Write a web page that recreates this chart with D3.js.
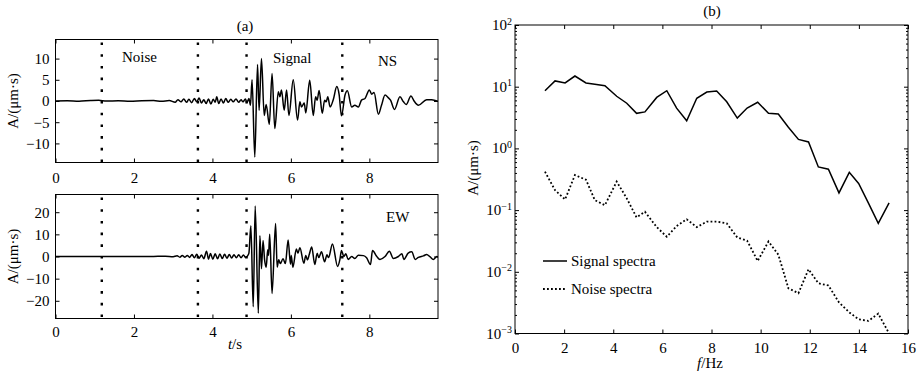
<!DOCTYPE html>
<html>
<head>
<meta charset="utf-8">
<script src="https://cdn.jsdelivr.net/npm/d3@7"></script>
<style>
  body { margin: 0; background: #fff; }
  svg, svg text { font-family: "Liberation Serif", "Times New Roman", serif; }
  .tick text { font-size: 15px; fill: #000; font-family: "Liberation Serif", "Times New Roman", serif; }
  .tick line { stroke: #000; }
</style>
</head>
<body>
<svg id="chart" width="918" height="373"></svg>
<script>
// window markers (s) on the waveforms
var windowMarks = [1.18, 3.63, 4.87, 7.31];

// NS component, turning points [t (s), A]
var nsWave = [
  [0, 0], [0.3, 0.05], [0.6, -0.05], [0.9, 0.1], [1.1, 0.15], [1.3, 0], [1.6, 0.05], [1.9, -0.08],
  [2.2, 0.05], [2.5, 0.1], [2.7, -0.05], [2.9, 0.1],
  [3.05, -0.3], [3.12, 0.3], [3.2, -0.2], [3.27, 0.5], [3.34, -0.3], [3.4, 0.4], [3.47, -0.4],
  [3.54, 0.6], [3.6, -0.2], [3.66, 0.7], [3.72, -0.5], [3.78, 0.3], [3.84, -0.6], [3.9, 0.5],
  [3.96, -0.7], [4.02, 0.4], [4.07, -0.3], [4.11, 1.0], [4.16, -0.6], [4.22, 0.5], [4.28, -0.5],
  [4.34, 0.6], [4.4, -0.3], [4.47, 0.4], [4.53, -0.2], [4.6, 0.5], [4.67, -0.3], [4.73, 0.3],
  [4.78, -0.2], [4.84, 0.5], [4.88, -0.4], [4.93, 0.6], [4.97, -1.0],
  [5.01, 5.0], [5.08, -13.2], [5.15, 8.6], [5.19, -2.2], [5.25, 10.0], [5.32, -3.4], [5.37, -0.8],
  [5.45, -5.5], [5.52, 6.5], [5.59, -6.5], [5.68, 2.2], [5.72, 1.0], [5.76, 2.6], [5.83, -2.2],
  [5.89, 2.6], [5.95, -3.4], [6.06, 5.0], [6.17, -4.5], [6.23, -0.2], [6.27, -1.4], [6.34, -0.5],
  [6.38, -2.8], [6.48, 4.9], [6.57, -3.4], [6.63, 1.0], [6.67, 0.2], [6.72, 2.5], [6.8, -2.9],
  [6.86, 0.2], [6.9, -0.2], [6.94, 1.0], [7.0, -1.4], [7.08, 0.3], [7.17, 3.4], [7.23, 1.5],
  [7.29, -3.5], [7.38, 1.4], [7.44, 2.4], [7.55, -1.4], [7.63, -1.0], [7.72, -1.4], [7.8, 0.2],
  [7.89, 0.6], [8.0, 2.6], [8.06, 1.6], [8.12, 2.0], [8.23, -3.1], [8.31, -1.0], [8.4, 1.4],
  [8.48, 0.8], [8.54, 0.2], [8.64, -2.0], [8.78, 1.0], [8.87, -0.2], [8.94, -0.8], [9.06, 1.2],
  [9.14, 0], [9.25, -1.0], [9.46, 0.3], [9.59, 0.3], [9.75, -0.1]
];

// EW component, turning points [t (s), A]
var ewWave = [
  [0, 0], [0.5, 0.05], [1, 0], [1.5, 0.05], [2, 0], [2.5, 0.05], [2.8, 0.1], [3.0, -0.1],
  [3.1, 0.3], [3.17, -0.3], [3.23, 0.4], [3.3, -0.3], [3.36, 0.5], [3.42, -0.4],
  [3.48, 0.9], [3.54, -0.6], [3.6, 1.0], [3.66, -0.8], [3.72, 0.7], [3.78, -1.0], [3.85, 2.4],
  [3.9, -1.2], [3.95, 1.3], [4.01, -1.2], [4.07, 1.2], [4.13, -1.0], [4.19, 1.1], [4.25, -0.9],
  [4.31, 1.0], [4.37, -0.8], [4.43, 0.9], [4.49, -0.7], [4.55, 0.8], [4.61, -0.6], [4.67, 0.8],
  [4.73, -0.6], [4.79, 0.7], [4.85, -0.5], [4.9, 0.4], [4.93, 1.5],
  [4.98, 13.9], [5.04, -22.7], [5.09, 22.8], [5.17, -25.6], [5.21, 9.4], [5.25, -5.5], [5.29, 7.2],
  [5.33, -1.5], [5.37, -4.8], [5.41, 3.0], [5.43, 0.5], [5.46, 10.1], [5.52, -16.7], [5.61, 14.9],
  [5.65, -4.8], [5.69, -1.5], [5.73, -3.2], [5.8, -1.0], [5.86, -3.2], [5.93, 7.5], [5.99, -3.5],
  [6.01, 0.5], [6.05, -4.8], [6.14, 3.4], [6.18, 1.5], [6.23, 4.0], [6.33, -3.0], [6.38, 0.5],
  [6.42, -1.5], [6.47, 1.0], [6.53, 4.3], [6.61, -3.6], [6.67, 1.5], [6.71, -0.5], [6.78, 2.1],
  [6.86, -2.4], [6.92, 0.8], [6.96, -0.5], [7.06, 5.7], [7.19, -4.5], [7.25, -1.3], [7.29, 2.7],
  [7.35, 0], [7.4, 1.2], [7.46, -1.3], [7.55, 0], [7.63, -0.9], [7.72, 0.6], [7.85, 0.4],
  [7.93, -0.6], [8.03, -3.6], [8.08, 2.7], [8.19, 0], [8.27, -1.3], [8.4, 0], [8.51, 2.4],
  [8.61, -0.9], [8.74, 0], [8.83, 1.2], [8.88, -1.3], [8.99, 1.5], [9.08, 2.1], [9.17, -1.3],
  [9.25, -0.4], [9.38, 0.3], [9.46, 0.9], [9.55, -0.2], [9.63, -1.3], [9.72, 0], [9.75, -0.3]
];

// spectra (panel b)
var specFreq = [1.22, 1.63, 2.04, 2.44, 2.89, 3.25, 3.66, 4.14, 4.55, 4.95, 5.29, 5.77, 6.18, 6.58,
  6.99, 7.40, 7.81, 8.21, 8.62, 9.05, 9.45, 9.88, 10.32, 10.72, 11.13, 11.54, 11.95, 12.35, 12.76,
  13.19, 13.61, 13.99, 14.39, 14.79, 15.23];
var signalSpec = [8.6, 12.4, 11.5, 14.9, 11.5, 11.0, 10.4, 7.0, 5.4, 3.7, 3.9, 6.7, 8.6, 4.5, 2.8,
  6.5, 8.2, 8.5, 5.7, 3.1, 4.5, 5.6, 3.7, 3.6, 2.2, 1.4, 1.27, 0.50, 0.46, 0.19, 0.41, 0.27, 0.13,
  0.061, 0.131];
var noiseSpec = [0.42, 0.21, 0.149, 0.37, 0.31, 0.145, 0.12, 0.29, 0.155, 0.076, 0.094, 0.053, 0.037,
  0.055, 0.071, 0.053, 0.065, 0.065, 0.061, 0.036, 0.032, 0.015, 0.031, 0.019, 0.0054, 0.0045, 0.011,
  0.0065, 0.006, 0.0032, 0.0022, 0.0017, 0.0016, 0.0021, 0.001];

var tTicks = [0, 2, 4, 6, 8];
var nsTicks = [-10, -5, 0, 5, 10];
var ewTicks = [-20, -10, 0, 10, 20];
var fTicks = [0, 2, 4, 6, 8, 10, 12, 14, 16];
var decades = [1e-3, 1e-2, 1e-1, 1e0, 1e1, 1e2];

var svg = d3.select("#chart");
var yLabel = "A/(\u03bcm\u00b7s)";
var serif = "Liberation Serif, Times New Roman, serif";

function noDomain(a) {
  a.select(".domain").remove();
  a.attr("font-family", serif);
}

function wavePanel(box, yDomain, yTicks, wave, id, pad) {
  var x = d3.scaleLinear().domain([0, 9.75]).range([box.left, box.right]);
  var y = d3.scaleLinear().domain(yDomain).range([box.bottom, box.top]);
  var g = svg.append("g");

  g.append("clipPath").attr("id", id).append("rect")
    .attr("x", box.left).attr("y", box.top)
    .attr("width", box.right - box.left).attr("height", box.bottom - box.top);

  g.append("g").attr("transform", "translate(0," + box.bottom + ")")
    .call(d3.axisBottom(x).tickValues(tTicks).tickSize(-4).tickPadding(pad))
    .call(noDomain);
  g.append("g").attr("transform", "translate(0," + box.top + ")")
    .call(d3.axisTop(x).tickValues(tTicks).tickSize(-4).tickFormat(""))
    .call(noDomain);
  g.append("g").attr("transform", "translate(" + box.left + ",0)")
    .call(d3.axisLeft(y).tickValues(yTicks).tickSize(-4).tickPadding(6))
    .call(noDomain);
  g.append("g").attr("transform", "translate(" + box.right + ",0)")
    .call(d3.axisRight(y).tickValues(yTicks).tickSize(-4).tickFormat(""))
    .call(noDomain);

  g.selectAll("line.mark").data(windowMarks).enter().append("line")
    .attr("x1", function(d) { return x(d); }).attr("x2", function(d) { return x(d); })
    .attr("y1", box.top + 3).attr("y2", box.bottom)
    .attr("stroke", "#000").attr("stroke-width", 2.4)
    .attr("stroke-dasharray", "2.6,9.1");

  g.append("path").datum(wave)
    .attr("clip-path", "url(#" + id + ")")
    .attr("fill", "none").attr("stroke", "#000").attr("stroke-width", 1.5)
    .attr("stroke-linejoin", "round")
    .attr("d", d3.line().x(function(d) { return x(d[0]); }).y(function(d) { return y(d[1]); })
      .curve(d3.curveMonotoneX));

  g.append("rect").attr("x", box.left).attr("y", box.top)
    .attr("width", box.right - box.left).attr("height", box.bottom - box.top)
    .attr("fill", "none").attr("stroke", "#000").attr("stroke-width", 1);

  g.append("text").attr("transform", "translate(18," + ((box.top + box.bottom) / 2) + ") rotate(-90)")
    .attr("text-anchor", "middle").attr("font-size", 15).text(yLabel);
  return g;
}

var boxA = { left: 55.5, right: 438, top: 39.5, bottom: 162.5 };
var boxB = { left: 55.5, right: 438, top: 194.5, bottom: 318.5 };
var gA = wavePanel(boxA, [-14.5, 14.5], nsTicks, nsWave, "clipA", 10);
var gB = wavePanel(boxB, [-28, 28], ewTicks, ewWave, "clipB", 8);

svg.append("text").attr("x", 245).attr("y", 31).attr("text-anchor", "middle")
  .attr("font-size", 15).text("(a)");
gA.append("text").attr("x", 122).attr("y", 62).attr("font-size", 15).text("Noise");
gA.append("text").attr("x", 273).attr("y", 63).attr("font-size", 15).text("Signal");
gA.append("text").attr("x", 378).attr("y", 66).attr("font-size", 15).text("NS");
gB.append("text").attr("x", 386).attr("y", 222).attr("font-size", 15).text("EW");
var tl = svg.append("text").attr("x", 235).attr("y", 349).attr("text-anchor", "middle").attr("font-size", 15);
tl.append("tspan").attr("font-style", "italic").text("t");
tl.append("tspan").text("/s");

// panel (b)
var boxS = { left: 515, right: 908, top: 25, bottom: 333.5 };
var xF = d3.scaleLinear().domain([0, 16]).range([boxS.left, boxS.right]);
var yS = d3.scaleLog().domain([1e-3, 1e2]).range([boxS.bottom, boxS.top]);
var minor = [];
decades.slice(0, 5).forEach(function(d) { for (var k = 2; k <= 9; k++) minor.push(d * k); });

var gS = svg.append("g");
gS.append("g").attr("transform", "translate(0," + boxS.bottom + ")")
  .call(d3.axisBottom(xF).tickValues(fTicks).tickSize(-4).tickPadding(9))
  .call(noDomain);
gS.append("g").attr("transform", "translate(0," + boxS.top + ")")
  .call(d3.axisTop(xF).tickValues(fTicks).tickSize(-4).tickFormat(""))
  .call(noDomain);
var yAx = gS.append("g").attr("transform", "translate(" + boxS.left + ",0)")
  .call(d3.axisLeft(yS).tickValues(decades).tickSize(-4).tickPadding(3))
  .call(noDomain);
yAx.selectAll(".tick text").each(function(d) {
  var t = d3.select(this), e = Math.round(Math.log10(d));
  t.text(null).attr("dy", "0.3em");
  t.append("tspan").text("10");
  t.append("tspan").attr("dy", "-0.55em").attr("font-size", "10px")
    .text(e < 0 ? "\u2212" + (-e) : String(e));
});
gS.append("g").attr("transform", "translate(" + boxS.left + ",0)")
  .call(d3.axisLeft(yS).tickValues(minor).tickSize(-2).tickFormat(""))
  .call(noDomain);
gS.append("g").attr("transform", "translate(" + boxS.right + ",0)")
  .call(d3.axisRight(yS).tickValues(decades).tickSize(-4).tickFormat(""))
  .call(noDomain);
gS.append("g").attr("transform", "translate(" + boxS.right + ",0)")
  .call(d3.axisRight(yS).tickValues(minor).tickSize(-2).tickFormat(""))
  .call(noDomain);

var specLine = function(vals) {
  return d3.line().x(function(d, i) { return xF(specFreq[i]); })
    .y(function(d) { return yS(d); })(vals);
};
gS.append("path").attr("d", specLine(signalSpec))
  .attr("fill", "none").attr("stroke", "#000").attr("stroke-width", 1.5);
gS.append("path").attr("d", specLine(noiseSpec))
  .attr("fill", "none").attr("stroke", "#000").attr("stroke-width", 1.8)
  .attr("stroke-dasharray", "1.8,2.2");

gS.append("rect").attr("x", boxS.left).attr("y", boxS.top)
  .attr("width", boxS.right - boxS.left).attr("height", boxS.bottom - boxS.top)
  .attr("fill", "none").attr("stroke", "#000").attr("stroke-width", 1);

svg.append("text").attr("x", 712).attr("y", 16).attr("text-anchor", "middle")
  .attr("font-size", 15).text("(b)");
svg.append("text").attr("transform", "translate(478,168) rotate(-90)")
  .attr("text-anchor", "middle").attr("font-size", 15).text(yLabel);
var fl = svg.append("text").attr("x", 710).attr("y", 368).attr("text-anchor", "middle").attr("font-size", 15);
fl.append("tspan").attr("font-style", "italic").text("f");
fl.append("tspan").text("/Hz");

// legend
var legend = [["Signal spectra", null, 1.5, 261], ["Noise spectra", "1.8,2.2", 1.8, 289]];
legend.forEach(function(l) {
  svg.append("line").attr("x1", 543).attr("x2", 567).attr("y1", l[3]).attr("y2", l[3])
    .attr("stroke", "#000").attr("stroke-width", l[2]).attr("stroke-dasharray", l[1]);
  svg.append("text").attr("x", 571).attr("y", l[3] + 5).attr("font-size", 15).text(l[0]);
});
</script>
</body>
</html>
